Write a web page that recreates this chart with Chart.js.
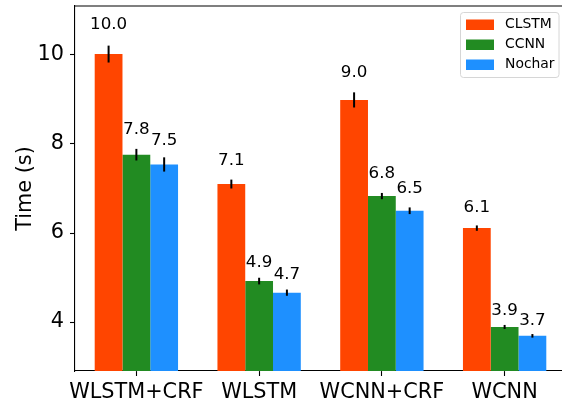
<!DOCTYPE html>
<html>
<head>
<meta charset="utf-8">
<script src="https://cdn.jsdelivr.net/npm/chart.js@4.4.1/dist/chart.umd.min.js"></script>
<style>
html, body { margin: 0; padding: 0; overflow: hidden; background: #fff; }
#wrap { width: 566px; height: 403px; }
</style>
</head>
<body>
<div id="wrap"><canvas id="chart"></canvas></div>
<script>
const categories = ["WLSTM+CRF", "WLSTM", "WCNN+CRF", "WCNN"];
const seriesNames = ["CLSTM", "CCNN", "Nochar"];
const clstmTime = [10.02, 7.10, 8.99, 6.11];
const ccnnTime = [7.76, 4.92, 6.83, 3.89];
const nocharTime = [7.54, 4.66, 6.50, 3.69];
const clstmErr = [0.19, 0.10, 0.17, 0.06];
const ccnnErr = [0.13, 0.075, 0.07, 0.045];
const nocharErr = [0.16, 0.07, 0.075, 0.04];
const yTicks = [4, 6, 8, 10];
const colors = ["#ff4500", "#228b22", "#1e90ff"];
const FONT = "'DejaVu Sans', sans-serif";

const errors = [clstmErr, ccnnErr, nocharErr];

// error bars, value labels, top spine and the boxed legend
const extras = {
    id: "extras",
    afterDatasetsDraw(chart) {
        const ctx = chart.ctx;
        const y = chart.scales.y;
        ctx.save();
        chart.data.datasets.forEach((ds, i) => {
            const meta = chart.getDatasetMeta(i);
            meta.data.forEach((bar, j) => {
                const v = ds.data[j];
                const e = errors[i][j];
                ctx.strokeStyle = "#000";
                ctx.lineWidth = 2;
                ctx.beginPath();
                ctx.moveTo(bar.x, y.getPixelForValue(v - e));
                ctx.lineTo(bar.x, y.getPixelForValue(v + e));
                ctx.stroke();
                ctx.fillStyle = "#000";
                ctx.font = "16.7px " + FONT;
                ctx.textAlign = "center";
                ctx.textBaseline = "alphabetic";
                ctx.fillText(v.toFixed(1), bar.x, y.getPixelForValue(v * 1.05) - 3);
            });
        });
        ctx.restore();
    },
    afterDraw(chart) {
        const ctx = chart.ctx;
        const area = chart.chartArea;
        ctx.save();
        // top spine
        ctx.strokeStyle = "#000";
        ctx.lineWidth = 1.1;
        ctx.beginPath();
        ctx.moveTo(area.left, area.top);
        ctx.lineTo(area.right, area.top);
        ctx.stroke();

        // legend
        const lx = 460.5, ly = 12.5, lw = 98.5, lh = 65, r = 3;
        ctx.beginPath();
        ctx.moveTo(lx + r, ly);
        ctx.arcTo(lx + lw, ly, lx + lw, ly + lh, r);
        ctx.arcTo(lx + lw, ly + lh, lx, ly + lh, r);
        ctx.arcTo(lx, ly + lh, lx, ly, r);
        ctx.arcTo(lx, ly, lx + lw, ly, r);
        ctx.closePath();
        ctx.fillStyle = "rgba(255,255,255,0.8)";
        ctx.fill();
        ctx.strokeStyle = "#d6d6d6";
        ctx.lineWidth = 1;
        ctx.stroke();
        chart.data.datasets.forEach((ds, i) => {
            const cy = 24.5 + i * 20;
            ctx.fillStyle = ds.backgroundColor;
            ctx.fillRect(466, cy - 5, 28, 10.5);
            ctx.fillStyle = "#000";
            ctx.font = "13.9px " + FONT;
            ctx.textAlign = "left";
            ctx.textBaseline = "middle";
            ctx.fillText(ds.label, 505, cy);
        });
        ctx.restore();
    }
};

const axisGrid = { display: true, drawOnChartArea: false, drawTicks: true, tickLength: 5, tickColor: "#000", tickWidth: 1.1, offset: false };
const axisBorder = { display: true, color: "#000", width: 1.1 };

new Chart(document.getElementById("chart"), {
    type: "bar",
    data: {
        labels: categories,
        datasets: [
            { label: seriesNames[0], data: clstmTime, backgroundColor: colors[0] },
            { label: seriesNames[1], data: ccnnTime, backgroundColor: colors[1] },
            { label: seriesNames[2], data: nocharTime, backgroundColor: colors[2] }
        ]
    },
    options: {
        responsive: true,
        maintainAspectRatio: false,
        animation: false,
        layout: { padding: { top: 6, right: 0, left: 0, bottom: 0 } },
        datasets: { bar: { categoryPercentage: 0.679, barPercentage: 1.0, borderWidth: 0 } },
        plugins: { legend: { display: false }, tooltip: { enabled: false } },
        scales: {
            x: {
                grid: axisGrid,
                border: axisBorder,
                ticks: { color: "#000", font: { family: FONT, size: 20.8 }, padding: 4, maxRotation: 0, autoSkip: false },
                afterFit(s) { s.height = 32; s.paddingLeft = 0; s.paddingRight = 0; }
            },
            y: {
                min: 2.9,
                max: 11.1,
                afterBuildTicks(s) { s.ticks = yTicks.map(v => ({ value: v })); },
                grid: axisGrid,
                border: axisBorder,
                ticks: { color: "#000", font: { family: FONT, size: 20.8 }, padding: 6 },
                title: { display: true, text: "Time (s)", color: "#000", font: { family: FONT, size: 20.8 }, padding: { top: 13, bottom: 0 } },
                afterFit(s) { s.width = 75; s.paddingTop = 0; s.paddingBottom = 0; }
            }
        }
    },
    plugins: [extras]
});
</script>
</body>
</html>
